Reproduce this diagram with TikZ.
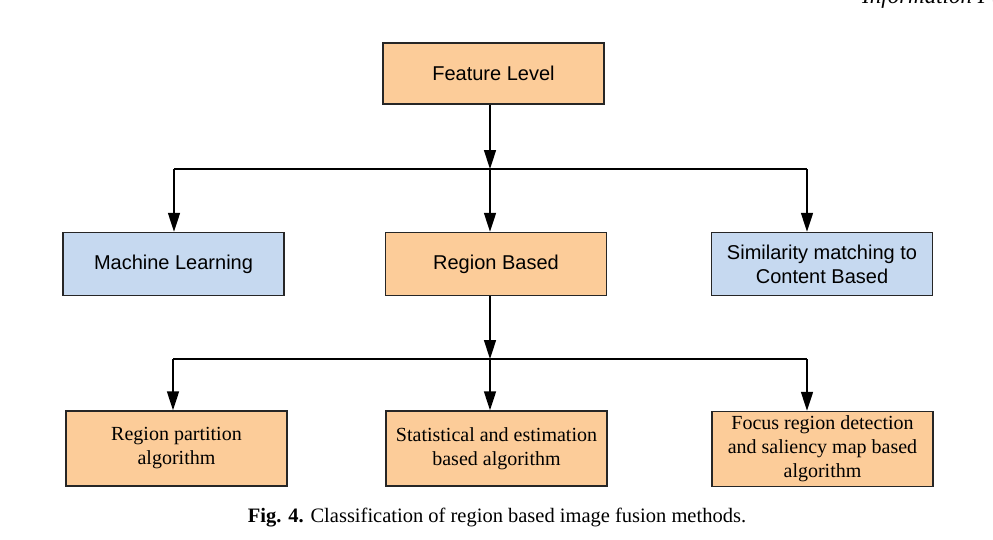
\documentclass[tikz,border=0pt]{standalone}
\usepackage{fontspec}
\setmainfont{Liberation Serif}
\newfontfamily\arialfont{Liberation Sans}
\usetikzlibrary{arrows.meta}
\definecolor{boxorange}{RGB}{252,204,153}
\definecolor{boxblue}{RGB}{198,217,240}
\def\bw{221}
\def\bh{63}
\tikzset{
  my box/.style={draw=black!85,line width=1.4pt,inner sep=0pt,align=center,
    minimum width=\bw,minimum height=\bh,font=\arialfont\fontsize{20}{24}\selectfont},
  my orange/.style={my box,fill=boxorange},
  my blue/.style={my box,fill=boxblue},
  my low/.style={my orange,minimum height=75,font=\fontsize{20}{24}\selectfont},
  my arrow/.style={line width=1.5pt,-{Triangle[length=19pt,width=12pt]}},
  my line/.style={line width=1.5pt}
}
\begin{document}
\begin{tikzpicture}[x=1pt,y=-1pt]
\useasboundingbox (0,0) rectangle (993,539);
% header
\node[anchor=base west,inner sep=0pt,font=\itshape\fontsize{23}{26}\selectfont] (head) at (862,3) {Information Fusion};
% boxes
\node[my orange,minimum height=61] (fl)  at (493.5,73.5) {Feature Level};
\node[my blue]   (ml)  at (173.5,264) {Machine Learning};
\node[my orange] (rb)  at (496,264)   {Region Based};
\node[my blue]   (sim) at (822,264)   {Similarity matching to\\Content Based};
\node[my low] (rp) at (176.5,448.5) {Region partition\\algorithm};
\node[my low] (st) at (496.5,448.5) {Statistical and estimation\\based algorithm};
\node[my low] (fr) at (822.5,449)   {Focus region detection\\and saliency map based\\algorithm};
% upper tree
\coordinate (j1) at (490,169);
\coordinate (a1) at (174,169);
\coordinate (a3) at (807,169);
\draw[my arrow] (fl.south -| j1) -- (j1);
\draw[my line] (a1) -- (a3);
\foreach \a/\b in {a1/ml,j1/rb,a3/sim}
  \draw[my arrow] (\a) -- (\a |- \b.north);
% lower tree
\coordinate (j2) at (490,359);
\coordinate (b1) at (173,359);
\coordinate (b3) at (807,359);
\draw[my arrow] (rb.south -| j2) -- (j2);
\draw[my line] (b1) -- (b3);
\foreach \a/\b in {b1/rp,j2/st,b3/fr}
  \draw[my arrow] (\a) -- (\a |- \b.north);
% caption
\node[anchor=base,inner sep=0pt,font=\fontsize{20.5}{24}\selectfont] (cap) at (497,522)
  {\textbf{Fig. 4.} Classification of region based image fusion methods.};
\end{tikzpicture}
\end{document}
